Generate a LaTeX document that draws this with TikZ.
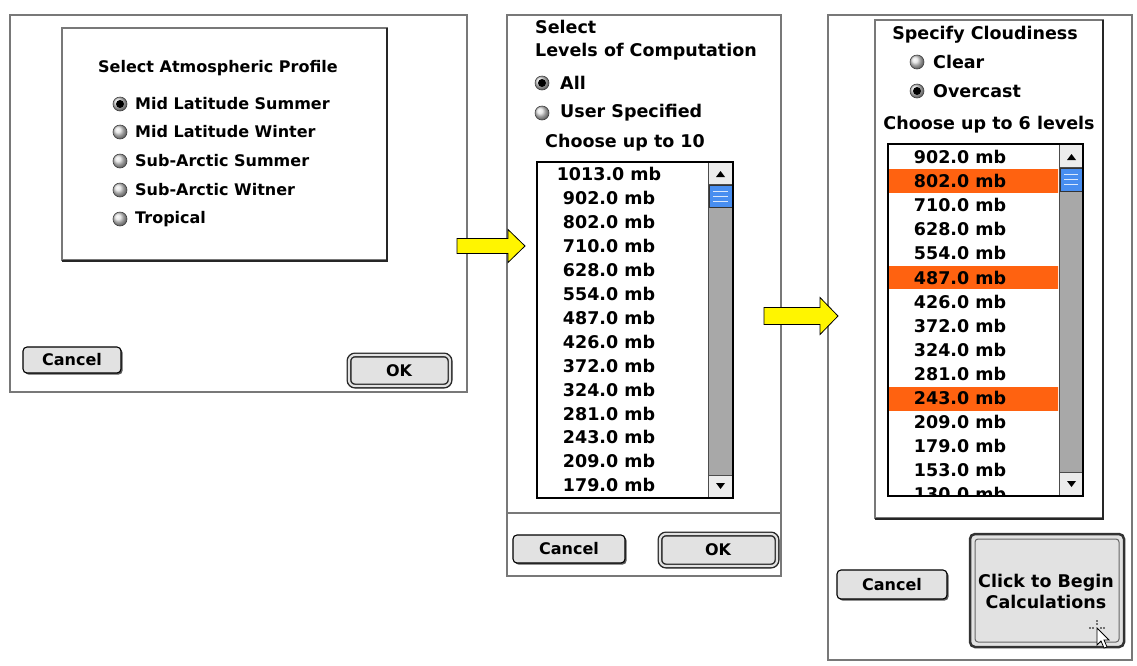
\documentclass[tikz,border=0pt]{standalone}
\usepackage{fontspec}
\setmainfont{DejaVu Sans}
\usetikzlibrary{shadows}
\definecolor{hl}{RGB}{255,98,16}
\definecolor{thumbc}{RGB}{72,142,240}
\definecolor{trackc}{RGB}{168,168,168}
\definecolor{btnc}{RGB}{226,226,226}
\definecolor{framec}{RGB}{120,120,120}
\definecolor{arrowc}{RGB}{255,245,0}
\begin{document}
\begin{tikzpicture}[x=1pt,y=-1pt,
  font=\fontsize{17.5}{19}\selectfont\bfseries,
  panelbox/.style={draw=framec, line width=1.3pt, fill=white},
  listbox/.style={draw=black, line width=1.2pt, fill=white},
  lbl/.style={inner sep=0, anchor=west},
  ctr/.style={inner sep=0, anchor=center},
  row/.style={inner sep=0, anchor=center},
  small/.style={font=\fontsize{16}{18}\selectfont\bfseries},
  radioc/.style={draw=black!75, line width=0.6pt, ball color=gray!25},
  btnbox/.style={draw=black, line width=1.1pt, fill=btnc, rounded corners=4pt,
     drop shadow={shadow xshift=1.6pt, shadow yshift=-1.6pt, fill=black!65, opacity=1}},
  defbtn/.style={draw=black!85, line width=1.4pt, double=btnc, double distance=2.2pt, fill=btnc, rounded corners=6pt},
  blockarrow/.style={draw=black, line width=0.8pt, fill=arrowc, line join=miter},
  scrollbtn/.style={draw=black!70, line width=0.6pt, fill=gray!15},
]
\useasboundingbox (0,0) rectangle (1137,665);
\fill[white] (0,0) rectangle (1137,665);

% ---------------- Panel 1 ----------------
\draw[panelbox] (10,15) rectangle (467,392);
\coordinate (p1e) at (467,246);
\draw[draw=framec, line width=1.2pt, fill=white] (62,28) rectangle (387,260);
\draw[black!85, line width=2pt] (387,28) -- (387,261) -- (62,261);
\node[ctr, small] (t1) at (218,68) {Select Atmospheric Profile};
\shadedraw[radioc] (120,104) circle (7pt);
\fill[black] (120,104) circle (4pt);
\node[lbl, small] (r1) at (135,104) {Mid Latitude Summer};
\shadedraw[radioc] (120,132) circle (7pt);
\node[lbl, small] (r2) at (135,132) {Mid Latitude Winter};
\shadedraw[radioc] (120,161) circle (7pt);
\node[lbl, small] (r3) at (135,161) {Sub-Arctic Summer};
\shadedraw[radioc] (120,190) circle (7pt);
\node[lbl, small] (r4) at (135,190) {Sub-Arctic Witner};
\shadedraw[radioc] (120,219) circle (7pt);
\node[lbl, small] (r5) at (135,219) {Tropical};
\draw[btnbox] (23,347) rectangle (121,373);
\node[ctr, small] (c1) at (72,360) {Cancel};
\draw[defbtn] (349,355) rectangle (450,386);
\node[ctr, small] (ok1) at (399,371) {OK};

% ---------------- Panel 2 ----------------
\draw[panelbox] (507,15) rectangle (781,576);
\coordinate (p2e) at (781,316);
\draw[framec, line width=1.2pt] (507,513) -- (781,513);
\node[lbl] (s2a) at (535,27) {Select};
\node[lbl] (s2b) at (535,52) {Levels of Computation};
\shadedraw[radioc] (542,83) circle (7pt);
\fill[black] (542,83) circle (4pt);
\node[lbl] (all) at (560,83) {All};
\shadedraw[radioc] (542,113) circle (7pt);
\node[lbl] (usr) at (560,113) {User Specified};
\node[lbl] (ch2) at (545,143) {Choose up to 10};
\draw[listbox] (537,162) rectangle (733,498);
\begin{scope}
\clip (538,163) rectangle (707,497);
\foreach \v [count=\i from 0] in {1013.0,902.0,802.0,710.0,628.0,554.0,487.0,426.0,372.0,324.0,281.0,243.0,209.0,179.0}
  \node[row] (la\i) at (609,{174+23.95*\i}) {\v\ mb};
\end{scope}
% scrollbar 2
\fill[trackc] (708,162) rectangle (733,498);
\draw[black!70, line width=0.6pt] (708,162) -- (708,498);
\draw[scrollbtn] (708,162) rectangle (733,184);
\fill[black] (716,177) -- (725,177) -- (720.5,171) -- cycle;
\draw[draw=black!80, fill=thumbc, line width=0.6pt] (709,185) rectangle (732,207);
\foreach \yy in {191,196,201} \draw[white!80!thumbc, line width=1pt] (713,\yy) -- (728,\yy);
\draw[scrollbtn] (708,475) rectangle (733,498);
\fill[black] (716,483) -- (725,483) -- (720.5,489) -- cycle;
\draw[black, line width=1.2pt] (537,162) rectangle (733,498);
\draw[btnbox] (513,535) rectangle (625,563);
\node[ctr, small] (c2) at (569,549) {Cancel};
\draw[defbtn] (660,534) rectangle (777,566);
\node[ctr, small] (ok2) at (718,550) {OK};

% ---------------- Panel 3 ----------------
\draw[panelbox] (828,15) rectangle (1132,660);
\draw[draw=framec, line width=1.2pt, fill=white] (875,20) rectangle (1103,518);
\draw[black!85, line width=2pt] (1103,20) -- (1103,519) -- (875,519);
\node[ctr] (t3) at (985,35) {Specify Cloudiness};
\shadedraw[radioc] (917,62) circle (7pt);
\node[lbl] (clr) at (933,62) {Clear};
\shadedraw[radioc] (917,91) circle (7pt);
\fill[black] (917,91) circle (4pt);
\node[lbl] (ovc) at (933,91) {Overcast};
\node[ctr] (ch3) at (989,125) {Choose up to 6 levels};
\draw[listbox] (888,144) rectangle (1083,496);
\begin{scope}
\clip (889,145) rectangle (1058,495);
\fill[hl] (888,169) rectangle (1059,193);
\fill[hl] (888,266) rectangle (1059,289);
\fill[hl] (888,387) rectangle (1059,411);
\foreach \v [count=\i from 0] in {902.0,802.0,710.0,628.0,554.0,487.0,426.0,372.0,324.0,281.0,243.0,209.0,179.0,153.0,130.0}
  \node[row] (lb\i) at (960,{157+24.1*\i}) {\v\ mb};
\end{scope}
% scrollbar 3
\fill[trackc] (1059,144) rectangle (1083,496);
\draw[black!70, line width=0.6pt] (1059,144) -- (1059,496);
\draw[scrollbtn] (1059,144) rectangle (1083,167);
\fill[black] (1067,160) -- (1076,160) -- (1071.5,154) -- cycle;
\draw[draw=black!80, fill=thumbc, line width=0.6pt] (1060,168) rectangle (1082,191);
\foreach \yy in {174,179,184} \draw[white!80!thumbc, line width=1pt] (1064,\yy) -- (1078,\yy);
\draw[scrollbtn] (1059,472) rectangle (1083,496);
\fill[black] (1067,481) -- (1076,481) -- (1071.5,487) -- cycle;
\draw[black, line width=1.2pt] (888,144) rectangle (1083,496);
\draw[btnbox] (837,570) rectangle (947,599);
\node[ctr, small] (c3) at (892,585) {Cancel};
\draw[draw=black!80, line width=2.5pt, fill=btnc, rounded corners=5pt] (970,534) rectangle (1124,647);
\draw[draw=black!60, line width=1pt, rounded corners=3pt] (975,539) rectangle (1119,642);
\node[ctr, align=center] (go) at (1046,591) {Click to Begin\\[2pt]Calculations};
% cursor
\draw[black, line width=0.8pt, fill=white] (1097,628) -- (1097,645) -- (1101,641) -- (1104,648) -- (1107,647) -- (1104,640) -- (1109,640) -- cycle;
\foreach \dx/\dy in {0/-7,0/-4,-7/0,-4/0,4/0,7/0} \fill[black] ({1097+\dx},{628+\dy}) circle (0.9pt);

% ---------------- Arrows ----------------
\draw[blockarrow] (p1e) ++(-10,-7.5) -- ++(51,0) -- ++(0,-9) -- ++(17,16.5) -- ++(-17,16.5) -- ++(0,-9) -- ++(-51,0) -- cycle;
\draw[blockarrow] (p2e) ++(-17,-8.5) -- ++(56,0) -- ++(0,-10) -- ++(18,18.5) -- ++(-18,18.5) -- ++(0,-10) -- ++(-56,0) -- cycle;
\end{tikzpicture}
\end{document}
